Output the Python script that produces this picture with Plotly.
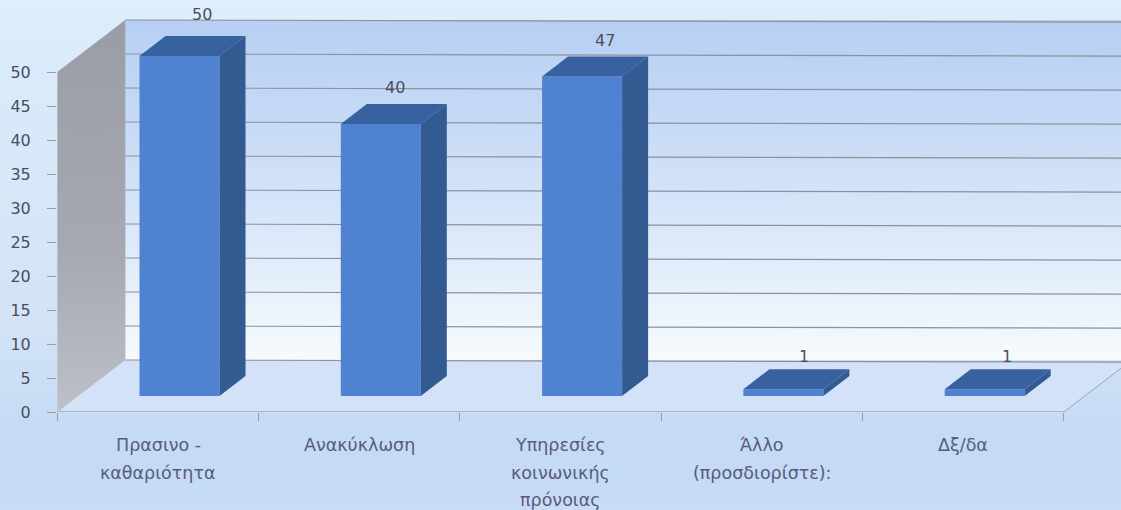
import plotly.graph_objects as go

# ---- data ----
categories = [["Πρασινο -", "καθαριότητα"], ["Ανακύκλωση"],
              ["Υπηρεσίες", "κοινωνικής", "πρόνοιας"],
              ["Άλλο", "(προσδιορίστε):"], ["Δξ/δα"]]
values = [50, 40, 47, 1, 1]
y_ticks = [0, 5, 10, 15, 20, 25, 30, 35, 40, 45, 50]

# ---- geometry in axis units ----
W, H = 1121, 510
PX_X, PX_Y = 201.3, 6.8          # px per category / per value unit
X0_PX, Y0_PX = 158, 412          # pixel of category 0 centre / value 0
xr = [-(X0_PX - 57) / PX_X, (W - X0_PX) / PX_X]
yr = [0, Y0_PX / PX_Y]
WALL_DX, WALL_DY = 68 / PX_X, 52 / PX_Y
BAR_DX, BAR_DY = 26 / PX_X, 20 / PX_Y
BASE = 16 / PX_Y
SHIFT, BW = 21.5 / PX_X, 80 / PX_X
xl, xe = -0.5, 4.5
n = len(values)

FRONT, TOP, SIDE = "#4f82d0", "#38629f", "#345a92"
TXT = "#4b4d5e"
FONT = "DejaVu Sans"

fig = go.Figure()

# page background, full window
bg_rows = [0, 40, 200, 330, 420, 470, 510]
bg_cols = ["#deeffb", "#daebfa", "#d6e7f8", "#d2e3f7", "#c6dbf5", "#c4daf5", "#c8dcf6"]
scale = [[i / (len(bg_cols) - 1), c] for i, c in enumerate(bg_cols)]
fig.add_trace(go.Heatmap(x=[0, W], y=bg_rows,
                         z=[[i, i] for i in range(len(bg_rows))],
                         colorscale=scale, showscale=False, zsmooth="best",
                         hoverinfo="skip", xaxis="x", yaxis="y"))

def poly(xs, ys, color=None, grad=None, axes=("x2", "y2"), line=None):
    kw = dict(fillgradient=grad) if grad else dict(fillcolor=color)
    fig.add_trace(go.Scatter(x=xs, y=ys, mode="lines", fill="toself",
                             line=dict(width=0) if line is None else line,
                             hoverinfo="skip", showlegend=False,
                             xaxis=axes[0], yaxis=axes[1], **kw))

def seg(xs, ys, color, width=1.2, axes=("x2", "y2")):
    fig.add_trace(go.Scatter(x=xs, y=ys, mode="lines",
                             line=dict(color=color, width=width),
                             hoverinfo="skip", showlegend=False,
                             xaxis=axes[0], yaxis=axes[1]))

top_v = y_ticks[-1]
wx = xl + WALL_DX
wr = xe + WALL_DX

# floor
poly([xl, xe, wr, wx, xl], [0, 0, WALL_DY, WALL_DY, 0], color="#d3e2f8")
# back wall
poly([wx, wr, wr, wx, wx],
     [WALL_DY, WALL_DY, top_v + WALL_DY, top_v + WALL_DY, WALL_DY],
     grad=dict(type="vertical",
               colorscale=[[0, "#f6fafd"], [0.08, "#f0f7fc"], [0.35, "#dce9fa"],
                           [0.7, "#c6daf6"], [1, "#b6cff2"]]))
# left wall
poly([xl, wx, wx, xl, xl], [0, WALL_DY, top_v + WALL_DY, top_v, 0],
     grad=dict(type="vertical",
               colorscale=[[0, "#bcc0c8"], [0.4, "#a6a9b2"], [1, "#9a9da6"]]))

# back-wall and left-wall gridlines
slope = 0.3
for t in y_ticks:
    seg([wx, xr[1]], [t + WALL_DY, t + WALL_DY - slope], "#8f9099", 1.2)
    if t:
        seg([xl, wx], [t, t + WALL_DY], "rgba(170,172,178,0.35)", 0.6)

# floor edges
seg([xl, xe], [0, 0], "#a4a6ac", 1.3)
seg([xe, wr], [0, WALL_DY], "#a0a2a8", 1)

# bars
bar_x = [i + SHIFT for i in range(n)]
fig.add_trace(go.Bar(x=bar_x, y=values, base=[BASE] * n, width=[BW] * n,
                     marker=dict(color=FRONT, line=dict(width=0)),
                     hoverinfo="skip", showlegend=False, xaxis="x3", yaxis="y3"))
for x, v in zip(bar_x, values):
    l, r, t, b = x - BW / 2, x + BW / 2, BASE + v, BASE
    poly([l, r, r + BAR_DX, l + BAR_DX, l], [t, t, t + BAR_DY, t + BAR_DY, t],
         color=TOP, axes=("x3", "y3"))
    poly([r, r + BAR_DX, r + BAR_DX, r, r], [b, b + BAR_DY, t + BAR_DY, t, b],
         color=SIDE, axes=("x3", "y3"))

# value labels
label_dx = [0.11, 0.07, 0.115, 0.10, 0.11]
label_dy = [22, 17, 16, 13, 13]
annots = []
for x, v, dx, dy in zip(bar_x, values, label_dx, label_dy):
    annots.append(dict(x=x + dx, y=BASE + v + BAR_DY, xref="x3", yref="y3",
                       text=str(v), showarrow=False, yshift=dy,
                       font=dict(family=FONT, size=16, color=TXT)))

# category labels, one annotation per line for the wide leading
FIRST, LEAD = 445, 27.5
for i, lines in enumerate(categories):
    for j, s in enumerate(lines):
        annots.append(dict(x=i, xref="x2", y=1 - (FIRST + j * LEAD) / H, yref="paper",
                           yanchor="middle", text=s, showarrow=False,
                           font=dict(family=FONT, size=17.5, color="#585b7c")))

fig.update_layout(
    width=W, height=H, margin=dict(l=0, r=0, t=0, b=0, pad=0, autoexpand=False),
    paper_bgcolor="#d6e7f8", plot_bgcolor="rgba(0,0,0,0)",
    showlegend=False, annotations=annots, barmode="overlay",
    xaxis=dict(domain=[0, 1], range=[0, W], visible=False, fixedrange=True),
    yaxis=dict(domain=[0, 1], range=[H, 0], visible=False, fixedrange=True),
    xaxis2=dict(domain=[57 / W, 1], range=xr, anchor="y2", showgrid=False,
                zeroline=False, showline=False, tickvals=[],
                minor=dict(tickvals=[i - 0.5 for i in range(n + 1)], ticks="outside",
                           ticklen=8, tickcolor="#9a9ca4", tickwidth=1, showgrid=False)),
    yaxis2=dict(domain=[1 - Y0_PX / H, 1], range=yr, anchor="x2", showgrid=False,
                zeroline=False, showline=False, tickvals=y_ticks, ticks="outside",
                ticklen=9, tickcolor="#9a9ca4", tickwidth=1, ticklabelstandoff=13,
                tickfont=dict(family=FONT, size=16, color=TXT)),
    xaxis3=dict(domain=[57 / W, 1], range=xr, anchor="y3", overlaying="x2", visible=False),
    yaxis3=dict(domain=[1 - Y0_PX / H, 1], range=yr, anchor="x3", overlaying="y2", visible=False),
)

fig.write_html("out.html", config={"displayModeBar": False},
               post_script="document.documentElement.style.overflow='hidden';"
                           "document.body.style.margin='0';"
                           "document.body.style.overflow='hidden';")
